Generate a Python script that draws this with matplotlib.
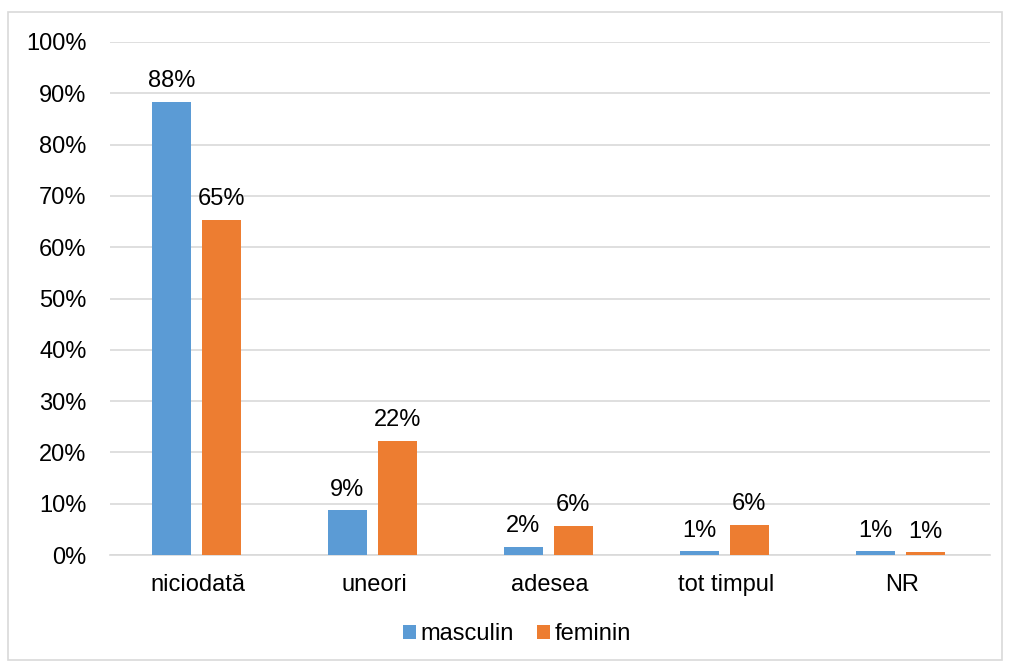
import matplotlib.pyplot as plt
from matplotlib.patches import Rectangle
import numpy as np

categories = ["niciodată", "uneori", "adesea", "tot timpul", "NR"]
masculin = [88.3, 8.7, 1.6, 0.7, 0.7]
feminin = [65.3, 22.3, 5.7, 5.9, 0.5]
masc_labels = ["88%", "9%", "2%", "1%", "1%"]
fem_labels = ["65%", "22%", "6%", "6%", "1%"]
yticks = list(range(0, 101, 10))

plt.rcParams["font.family"] = ["Liberation Sans", "DejaVu Sans"]

color_m = "#5B9BD5"
color_f = "#ED7D31"
fs = 17

fig = plt.figure(figsize=(10.09, 6.64), dpi=100)
ax = fig.add_axes([110 / 1009, 1 - 555 / 664, 880 / 1009, 513 / 664])

# outer chart border
fig.patches.append(Rectangle((8 / 1009, 4 / 664), 994 / 1009, 648 / 664,
                             transform=fig.transFigure, fill=False,
                             edgecolor="#D9D9D9", linewidth=1.2))

x = np.arange(len(categories))
w = 0.22
off = 0.142
bm = ax.bar(x - off - 0.01, masculin, w, color=color_m, label="masculin", zorder=3)
bf = ax.bar(x + off - 0.01, feminin, w, color=color_f, label="feminin", zorder=3)

for bars, labels in [(bm, masc_labels), (bf, fem_labels)]:
    for rect, lab in zip(bars, labels):
        ax.annotate(lab, (rect.get_x() + rect.get_width() / 2, rect.get_height()),
                    xytext=(0, 7), textcoords="offset points", ha="center",
                    va="bottom", fontsize=fs)

ax.set_xlim(-0.5, len(categories) - 0.5)
ax.set_ylim(0, 100)
ax.set_yticks(yticks)
ax.set_yticklabels([f"{t}%" for t in yticks], fontsize=fs)
ax.set_xticks(x)
ax.set_xticklabels(categories, fontsize=fs)
ax.tick_params(axis="x", length=0, pad=14)
ax.tick_params(axis="y", length=0, pad=17)
ax.grid(axis="y", color="#D9D9D9", linewidth=1.2, zorder=0)
for s in ["top", "right", "left"]:
    ax.spines[s].set_visible(False)
ax.spines["bottom"].set_color("#D9D9D9")
ax.spines["bottom"].set_linewidth(1.2)

fig.legend(handles=[bm, bf], loc="center", bbox_to_anchor=(517 / 1009, 1 - 634 / 664),
           ncols=2, frameon=False, fontsize=fs, handlelength=0.55,
           handleheight=0.55, handletextpad=0.2, columnspacing=1.0)

fig.savefig("out.png", dpi=100)
